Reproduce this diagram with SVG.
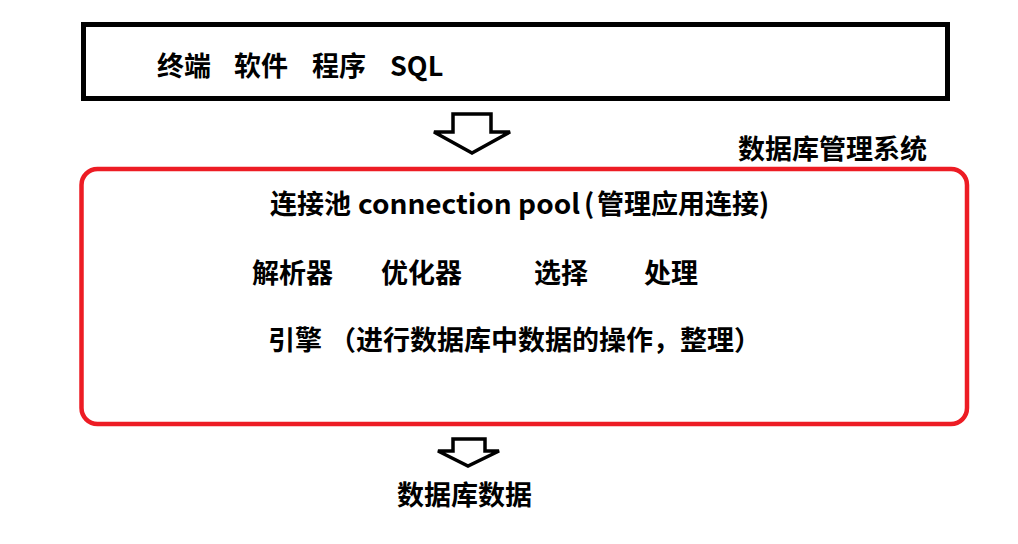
<svg xmlns="http://www.w3.org/2000/svg" width="1018" height="544" viewBox="0 0 1018 544">
<style>
.t{font-family:"Microsoft YaHei","Noto Sans CJK SC","Noto Sans",sans-serif;font-weight:bold;font-size:27px;fill:#000}
.arrow{fill:#fff;stroke:#000;stroke-width:3.5;stroke-linejoin:miter}
</style>
<rect width="1018" height="544" fill="#fff"/>
<g id="client">
<rect x="83.5" y="24.5" width="864" height="74" fill="#fff" stroke="#000" stroke-width="5"/>
<text class="t" x="157" y="76">终端</text>
<text class="t" x="234" y="76">软件</text>
<text class="t" x="312" y="76">程序</text>
<text class="t" x="390" y="76">SQL</text>
</g>
<g id="dbms">
<text class="t" x="738" y="159">数据库管理系统</text>
<rect x="81.5" y="169" width="885.5" height="255" rx="16" fill="none" stroke="#ed1c24" stroke-width="4.5"/>
<text class="t" x="270" y="214">连接池</text>
<text class="t" x="358" y="214" textLength="222" lengthAdjust="spacingAndGlyphs">connection pool</text>
<text class="t" x="584" y="214">(</text>
<text class="t" x="597" y="214">管理应用连接</text>
<text class="t" x="759" y="214">)</text>
<text class="t" x="252" y="283">解析器</text>
<text class="t" x="381" y="283">优化器</text>
<text class="t" x="534" y="283">选择</text>
<text class="t" x="644" y="283">处理</text>
<text class="t" x="268" y="350">引擎</text>
<text class="t" x="329" y="350">（进行数据库中数据的操作，整理）</text>
</g>
<g id="data">
<text class="t" x="397" y="505">数据库数据</text>
</g>
<g id="connectors">
<polygon class="arrow" points="453,114 491,114 491,132 510,132 472,153 434,132 453,132"/>
<polygon class="arrow" points="453,439 485,439 485,451 499,451 468,466 438,451 453,451"/>
</g>
</svg>
